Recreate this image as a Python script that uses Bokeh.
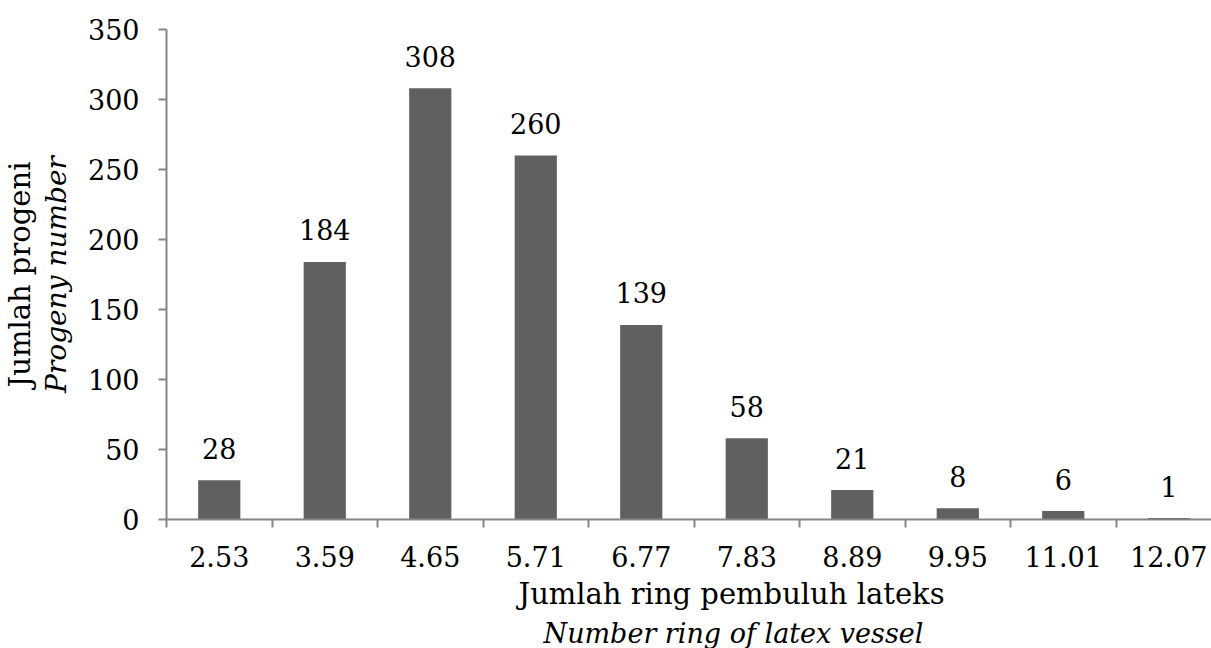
import numpy as np
from bokeh.plotting import figure
from bokeh.models import Range1d, FixedTicker, ColumnDataSource, Title
from bokeh.core.properties import value
from bokeh.embed import file_html
from bokeh.resources import INLINE

categories = ["2.53", "3.59", "4.65", "5.71", "6.77", "7.83", "8.89", "9.95", "11.01", "12.07"]
counts = [28, 184, 308, 260, 139, 58, 21, 8, 6, 1]
y_ticks = [0, 50, 100, 150, 200, 250, 300, 350]

FONT = "DejaVu Serif"
AX = "#868686"
BAR = "#606060"

xs = list(range(len(categories)))
src = ColumnDataSource(dict(x=xs, top=counts, lab=[str(c) for c in counts]))

p = figure(width=1211, height=648, output_backend="svg", toolbar_location=None,
           x_range=Range1d(-0.5, 9.405), y_range=Range1d(0, 350),
           min_border_left=165, min_border_right=0, min_border_top=29, min_border_bottom=129)
p.outline_line_color = None
p.grid.visible = False
p.background_fill_color = "white"

p.vbar(x="x", top="top", width=0.4, bottom=0, source=src, fill_color=BAR, line_color=None)

p.text(x="x", y="top", text="lab", source=src, text_align="center",
       text_baseline="alphabetic", y_offset=-32, text_font=value(FONT),
       text_font_size=value("27px"), text_color="black")

# x axis
xa = p.xaxis[0]
xa.ticker = FixedTicker(ticks=xs, minor_ticks=[i - 0.5 for i in range(len(categories) + 1)])
xa.major_label_overrides = {i: c for i, c in enumerate(categories)}
xa.major_tick_out = 0
xa.major_tick_in = 0
xa.minor_tick_out = 8
xa.minor_tick_in = 0
xa.minor_tick_line_color = AX
xa.minor_tick_line_width = 2
xa.axis_line_color = AX
xa.axis_line_width = 2
xa.major_label_standoff = 18
xa.major_label_text_font = FONT
xa.major_label_text_font_size = "27px"
xa.major_label_text_color = "black"

# y axis
ya = p.yaxis[0]
ya.ticker = FixedTicker(ticks=y_ticks)
ya.minor_tick_line_color = None
ya.major_tick_out = 8
ya.major_tick_in = 0
ya.major_tick_line_color = AX
ya.major_tick_line_width = 2
ya.axis_line_color = AX
ya.axis_line_width = 2
ya.major_label_standoff = 19
ya.major_label_text_font = FONT
ya.major_label_text_font_size = "27px"
ya.major_label_text_color = "black"
ya.axis_label = "Progeny number"
ya.axis_label_text_font = FONT
ya.axis_label_text_font_size = "28px"
ya.axis_label_text_font_style = "italic"
ya.axis_label_text_color = "black"
ya.axis_label_standoff = 12

t_left = Title(text="Jumlah progeni", align="center", text_font=FONT,
               text_font_size="29px", text_font_style="normal", text_color="black",
               standoff=0, offset=0)
p.add_layout(t_left, "left")

t_below1 = Title(text="Jumlah ring pembuluh lateks", align="left", text_font=FONT,
                 text_font_size="29px", text_font_style="normal", text_color="black",
                 standoff=10, offset=352)
p.add_layout(t_below1, "below")

t_below2 = Title(text="Number ring of latex vessel", align="left", text_font=FONT,
                 text_font_size="27px", text_font_style="italic", text_color="black",
                 standoff=0, offset=377)
p.add_layout(t_below2, "below")

open("out.html", "w").write(file_html(p, INLINE))
